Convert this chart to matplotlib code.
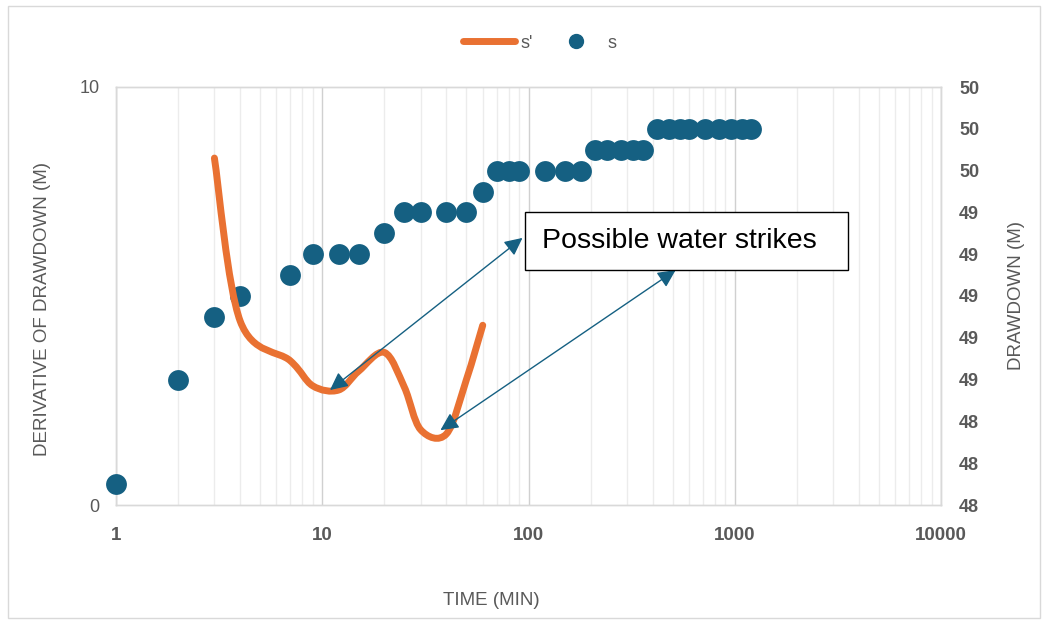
import numpy as np
import matplotlib
matplotlib.use('Agg')
import matplotlib.pyplot as plt
from matplotlib.path import Path
from matplotlib.patches import PathPatch, Rectangle
from matplotlib.lines import Line2D
from matplotlib.ticker import FixedLocator, FuncFormatter

plt.rcParams['font.family'] = ['Liberation Sans']

# drawdown s (right axis)
s_time = [1, 2, 3, 4, 7, 9, 12, 15, 20, 25, 30, 40, 50, 60, 70, 80, 90,
          120, 150, 180, 210, 240, 280, 320, 360,
          420, 480, 540, 600, 720, 840, 960, 1080, 1200]
s_val = [48.1, 48.6, 48.9, 49.0, 49.1, 49.2, 49.2, 49.2, 49.3, 49.4, 49.4, 49.4, 49.4, 49.5,
         49.6, 49.6, 49.6, 49.6, 49.6, 49.6, 49.7, 49.7, 49.7, 49.7, 49.7,
         49.8, 49.8, 49.8, 49.8, 49.8, 49.8, 49.8, 49.8, 49.8]

# derivative s' (left axis)
d_time = [3, 4, 7, 9, 12, 15, 20, 25, 30, 40, 50, 60]
d_val = [8.3, 4.4, 3.45, 2.85, 2.75, 3.2, 3.65, 2.82, 1.8, 1.7, 3.0, 4.3]

ORANGE = '#E97132'
BLUE = '#156082'
GREY = '#595959'


def smooth_path(xs, ys):
    # excel-like smoothed line: catmull-rom bezier in (log x, y)
    pts = np.column_stack([np.log10(xs), ys])
    n = len(pts)
    verts = [pts[0]]
    codes = [Path.MOVETO]
    for i in range(n - 1):
        p0 = pts[i - 1] if i > 0 else pts[i]
        p1 = pts[i]
        p2 = pts[i + 1]
        p3 = pts[i + 2] if i + 2 < n else pts[i + 1]
        verts += [p1 + (p2 - p0) / 6, p2 - (p3 - p1) / 6, p2]
        codes += [Path.CURVE4] * 3
    verts = np.array(verts)
    verts[:, 0] = 10 ** verts[:, 0]
    return Path(verts, codes)


fig = plt.figure(figsize=(10.48, 6.21), dpi=100)
ax = fig.add_axes([116 / 1048, 1 - 505 / 621, 825 / 1048, 418 / 621])
ax2 = ax.twinx()

ax.set_xscale('log')
ax.set_xlim(1, 10000)
ax.set_ylim(0, 10)
ax2.set_ylim(48, 50)

# grid on the lower axes, under the dots
ax.grid(True, which='major', axis='x', color='#d0d0d0', lw=1.0)
ax.grid(True, which='minor', axis='x', color='#ececec', lw=1.0)
ax.set_axisbelow(True)

# drawdown points (right axis)
ax2.scatter(s_time, s_val, s=225, color=BLUE, linewidths=0, zorder=3, clip_on=False)

# derivative curve, left-axis coordinates but drawn above the dots
ax2.add_patch(PathPatch(smooth_path(d_time, d_val), transform=ax.transData,
                        facecolor='none', edgecolor=ORANGE,
                        lw=5, capstyle='round', joinstyle='round', zorder=4))

for a in (ax, ax2):
    for sp in a.spines.values():
        sp.set_color('#d9d9d9')
        sp.set_linewidth(1.0)

# ticks
ax.xaxis.set_major_locator(FixedLocator([1, 10, 100, 1000, 10000]))
ax.xaxis.set_major_formatter(FuncFormatter(lambda v, p: f'{v:.0f}'))
ax.tick_params(axis='x', which='both', length=0, pad=16, labelsize=13.5, labelcolor=GREY)
for lab in ax.get_xticklabels():
    lab.set_fontweight('bold')
ax.yaxis.set_major_locator(FixedLocator([0, 10]))
ax.tick_params(axis='y', length=0, pad=12, labelsize=13, labelcolor=GREY)

ax2.yaxis.set_major_locator(FixedLocator(np.linspace(48, 50, 11)))
ax2.yaxis.set_major_formatter(FuncFormatter(lambda v, p: f'{v:.0f}'))
ax2.tick_params(axis='y', length=0, pad=13, labelsize=13, labelcolor=GREY)
for lab in ax2.get_yticklabels():
    lab.set_fontweight('bold')

# axis titles
ax.set_xlabel('TIME (MIN)', fontsize=13.5, color=GREY)
ax.xaxis.set_label_coords(0.455, -0.208)
ax.set_ylabel('DERIVATIVE OF DRAWDOWN (M)', fontsize=13.5, color=GREY)
ax.yaxis.set_label_coords(-0.079, 0.47)
ax2.set_ylabel('DRAWDOWN (M)', fontsize=13.5, color=GREY)
ax2.yaxis.set_label_coords(1.081, 0.5)

# annotation box and arrows
ax2.add_patch(Rectangle((0.4958, 0.562), 0.391, 0.139, transform=ax2.transAxes,
                        facecolor='white', edgecolor='black', lw=1.0, zorder=6))
ax2.text(0.5164, 0.6316, 'Possible water strikes', transform=ax2.transAxes,
         fontsize=20.5, color='black', va='center', ha='left', zorder=7)
arrow_kw = dict(arrowstyle='<|-|>,head_length=0.45,head_width=0.22', color=BLUE, lw=1.0,
                mutation_scale=24, shrinkA=0, shrinkB=0)
ax2.annotate('', xy=(10.9, 2.75), xycoords=ax.transData, xytext=(93.5, 6.39),
             textcoords=ax.transData, arrowprops=arrow_kw, zorder=5)
ax2.annotate('', xy=(37.4, 1.79), xycoords=ax.transData, xytext=(517, 5.62),
             textcoords=ax.transData, arrowprops=arrow_kw, zorder=5)

# legend
handles = [Line2D([], [], color=ORANGE, lw=5, solid_capstyle='round'),
           Line2D([], [], color=BLUE, marker='o', ls='none', markersize=10)]
fig.legend(handles, ["s'", 's'], loc='center', bbox_to_anchor=(0.515, 1 - 43 / 621),
           ncol=2, frameon=False, fontsize=13, labelcolor=GREY, handlelength=2.9,
           columnspacing=0.9, handletextpad=0.3)

# chart border
fig.patches.append(Rectangle((0.008, 0.005), 0.984, 0.985, transform=fig.transFigure,
                             facecolor='none', edgecolor='#d9d9d9', lw=1.0))

fig.savefig('out.png', dpi=100)
